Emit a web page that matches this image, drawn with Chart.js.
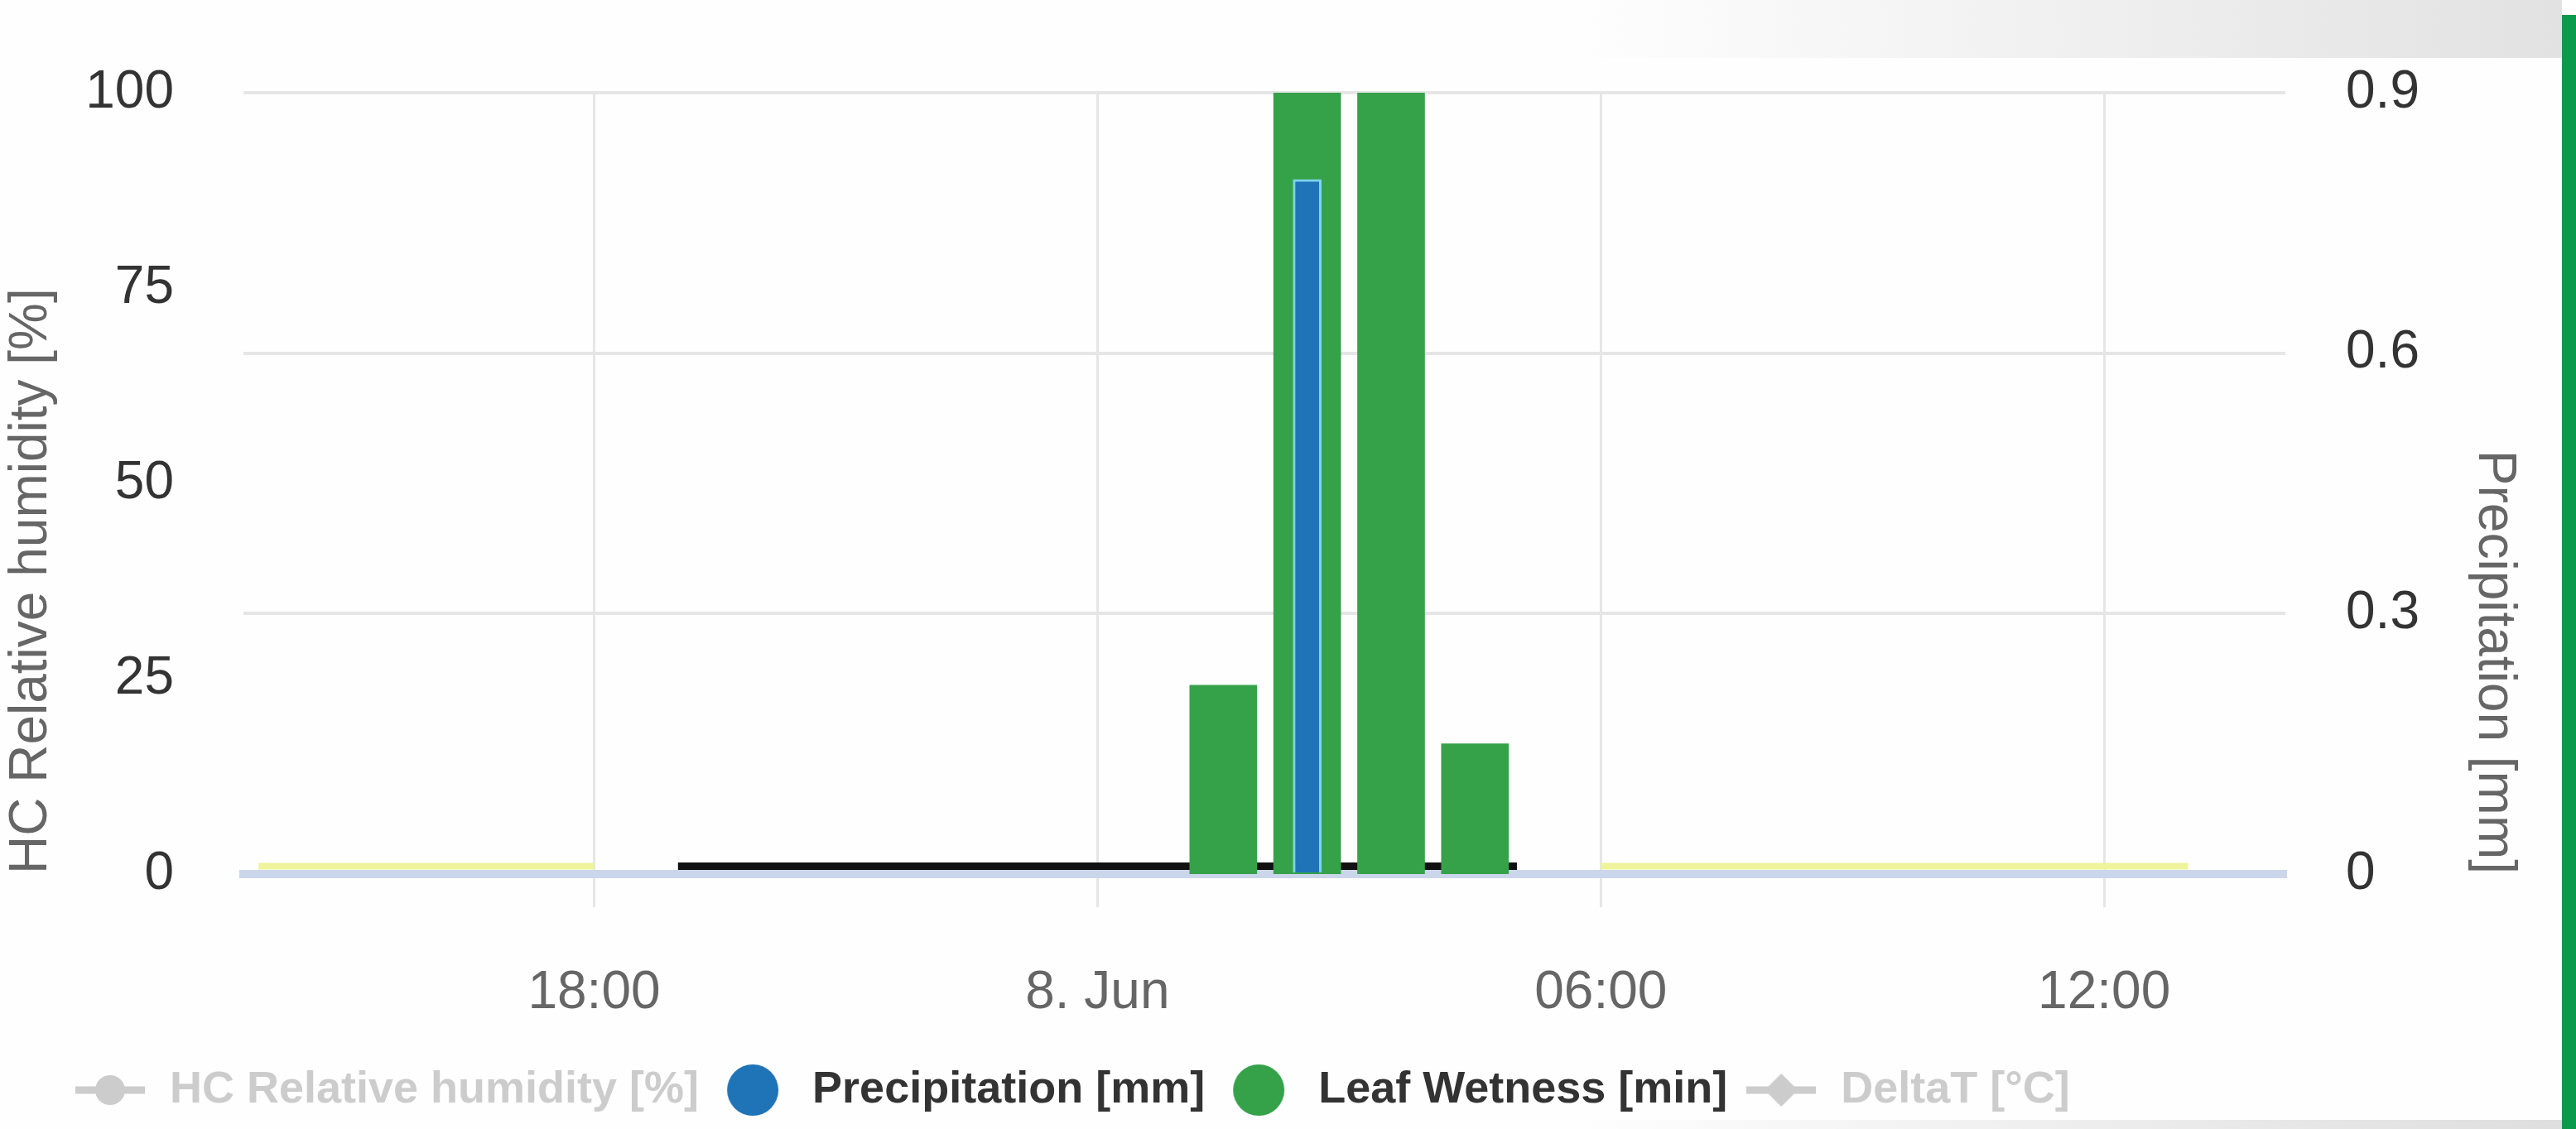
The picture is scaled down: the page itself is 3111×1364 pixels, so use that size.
<!DOCTYPE html>
<html>
<head>
<meta charset="utf-8">
<script src="https://cdn.jsdelivr.net/npm/chart.js@4.4.1/dist/chart.umd.min.js"></script>
<style>
  html, body { margin: 0; padding: 0; background: #fff; }
  #wrap { position: relative; width: 3111px; height: 1364px; overflow: hidden; background: #fefefe; }
  #topShade { position: absolute; left: 1900px; top: 0; width: 1194px; height: 70px;
    background: linear-gradient(to right, rgba(226,226,226,0), #e2e2e2); }
  #bottomShade { position: absolute; left: 1900px; bottom: 0; width: 1194px; height: 11px;
    background: linear-gradient(to right, rgba(222,222,222,0), #dedede); }
  #greenBar { position: absolute; left: 3094px; top: 18px; width: 17px; bottom: 0; background: #0a9a4b; }
  canvas { position: absolute; left: 0; top: 0; }
</style>
</head>
<body>
<div id="wrap">
  <div id="topShade"></div>
  <div id="bottomShade"></div>
  <canvas id="chart" width="3111" height="1364"></canvas>
  <div id="greenBar"></div>
</div>
<script>
// time axis in hours from 7 Jun 00:00
const tickHours = [18, 24, 30, 36];
const tickLabels = ["18:00", "8. Jun", "06:00", "12:00"];
const leftTicks = [0, 25, 50, 75, 100];
const rightTicks = [0, 0.3, 0.6, 0.9];

// series
const precipHours = [26.5];
const precipMm = [0.8];
const leafHours = [25.5, 26.5, 27.5, 28.5];
const leafMinutes = [14.5, 60, 60, 10];
const humidity = [];   // series switched off in the legend
const deltaT = [];     // series switched off in the legend

// day / night strip along the bottom
const dayStart = [14, 30];
const dayEnd = [18, 37];
const nightStart = [19];
const nightEnd = [29];
const stripLevel = 1;

const legendNames = ["HC Relative humidity [%]", "Precipitation [mm]", "Leaf Wetness [min]", "DeltaT [°C]"];
const legendActive = [false, true, true, false];

const fontFamily = "'Liberation Sans', Arial, sans-serif";
const blue = "#1f73b7";
const green = "#35a24a";
const grey = "#e6e6e6";
const clear = "rgba(0,0,0,0)";

function segments(starts, ends) {
  const pts = [];
  starts.forEach((s, i) => {
    if (i > 0) pts.push({ x: (ends[i - 1] + s) / 2, y: null });
    pts.push({ x: s, y: stripLevel });
    pts.push({ x: ends[i], y: stripLevel });
  });
  return pts;
}

function lineSymbol(color, marker) {
  const c = document.createElement("canvas");
  c.width = 84; c.height = 44;
  const g = c.getContext("2d");
  g.strokeStyle = color; g.fillStyle = color; g.lineWidth = 9;
  g.beginPath(); g.moveTo(0, 22); g.lineTo(84, 22); g.stroke();
  g.beginPath();
  if (marker === "diamond") {
    g.moveTo(42, 2); g.lineTo(62, 22); g.lineTo(42, 42); g.lineTo(22, 22); g.closePath();
  } else {
    g.arc(42, 22, 18, 0, Math.PI * 2);
  }
  g.fill();
  return c;
}

function dotSymbol(color) {
  const c = document.createElement("canvas");
  c.width = 64; c.height = 64;
  const g = c.getContext("2d");
  g.fillStyle = color;
  g.beginPath(); g.arc(32, 32, 31, 0, Math.PI * 2); g.fill();
  return c;
}

const legendSymbols = [lineSymbol("#cccccc", "circle"), dotSymbol(blue), dotSymbol(green), lineSymbol("#cccccc", "diamond")];

const legendShift = {
  id: "legendShift",
  afterLayout(chart) { chart.legend.left = 68; }
};

const tickFont = { family: fontFamily, size: 64 };
const titleFont = { family: fontFamily, size: 64 };

new Chart(document.getElementById("chart"), {
  type: "bar",
  data: {
    datasets: [
      {
        type: "line", label: legendNames[0], hidden: true, yAxisID: "yLeft",
        data: humidity, borderColor: "#cccccc", pointRadius: 0
      },
      {
        label: legendNames[1], yAxisID: "yRight", order: 0, grouped: false,
        data: precipHours.map((h, i) => ({ x: h, y: precipMm[i] })),
        backgroundColor: blue, borderColor: "#7fd4ec", borderWidth: 3, barThickness: 34
      },
      {
        label: legendNames[2], yAxisID: "yLeaf", order: 1, grouped: false,
        data: leafHours.map((h, i) => ({ x: h, y: leafMinutes[i] })),
        backgroundColor: green, borderWidth: 0, barThickness: 81
      },
      {
        type: "line", label: legendNames[3], hidden: true, yAxisID: "yLeft",
        data: deltaT, borderColor: "#cccccc", pointRadius: 0
      },
      {
        type: "line", label: "day", yAxisID: "yLeft", order: 3,
        data: segments(dayStart, dayEnd), borderColor: "#eef39c", borderWidth: 8,
        borderCapStyle: "butt", pointRadius: 0, spanGaps: false, tension: 0
      },
      {
        type: "line", label: "night", yAxisID: "yLeft", order: 3,
        data: segments(nightStart, nightEnd), borderColor: "#111111", borderWidth: 9,
        borderCapStyle: "butt", pointRadius: 0, spanGaps: false, tension: 0
      }
    ]
  },
  options: {
    responsive: false,
    animation: false,
    layout: { padding: { top: 112, right: 17, bottom: 10, left: 0 } },
    scales: {
      x: {
        type: "linear", min: 13.82, max: 38.16, offset: false,
        afterFit: (s) => { s.height = 214; },
        afterBuildTicks: (s) => { s.ticks = tickHours.map((v) => ({ value: v })); },
        ticks: {
          callback: (v, i) => tickLabels[i],
          color: "#666666", font: tickFont, padding: 66, maxRotation: 0, autoSkip: false
        },
        grid: { offset: false, color: grey, lineWidth: 3, tickLength: 40, tickColor: grey, drawTicks: true },
        border: { color: "#ccd6eb", width: 10 }
      },
      yLeft: {
        position: "left", min: 0, max: 100,
        afterFit: (s) => { s.width = 294; },
        afterBuildTicks: (s) => { s.ticks = leftTicks.map((v) => ({ value: v })); },
        ticks: { color: "#333333", font: tickFont, padding: 14 },
        // invisible tick marks push the labels away from the plot
        grid: { drawOnChartArea: false, drawTicks: true, tickLength: 70, color: clear, tickColor: clear },
        border: { display: false },
        title: {
          display: true, text: "HC Relative humidity [%]", color: "#666666",
          font: titleFont, align: "start", padding: 0
        }
      },
      yRight: {
        position: "right", min: 0, max: 0.9,
        afterFit: (s) => { s.width = 334; },
        afterBuildTicks: (s) => { s.ticks = rightTicks.map((v) => ({ value: v })); },
        ticks: { color: "#333333", font: tickFont, padding: 13 },
        grid: {
          drawTicks: true, tickLength: 60, tickColor: clear, lineWidth: 4,
          color: (ctx) => (ctx.tick && ctx.tick.value === 0 ? clear : grey)
        },
        border: { display: false },
        title: {
          display: true, text: "Precipitation [mm]", color: "#666666",
          font: titleFont, align: "start", padding: { top: 44, bottom: 0 }
        }
      },
      yLeaf: { display: false, min: 0, max: 60 }
    },
    plugins: {
      tooltip: { enabled: false },
      legend: {
        position: "bottom",
        align: "start",
        labels: {
          usePointStyle: true,
          pointStyleWidth: 90,
          padding: 20,
          font: { family: fontFamily, size: 54, weight: "bold" },
          generateLabels: () => legendNames.map((name, i) => ({
            text: name,
            datasetIndex: i,
            hidden: false,
            fontColor: legendActive[i] ? "#333333" : "#cccccc",
            pointStyle: legendSymbols[i],
            fillStyle: clear,
            strokeStyle: clear,
            lineWidth: 0
          }))
        }
      }
    }
  },
  plugins: [legendShift]
});
</script>
</body>
</html>
